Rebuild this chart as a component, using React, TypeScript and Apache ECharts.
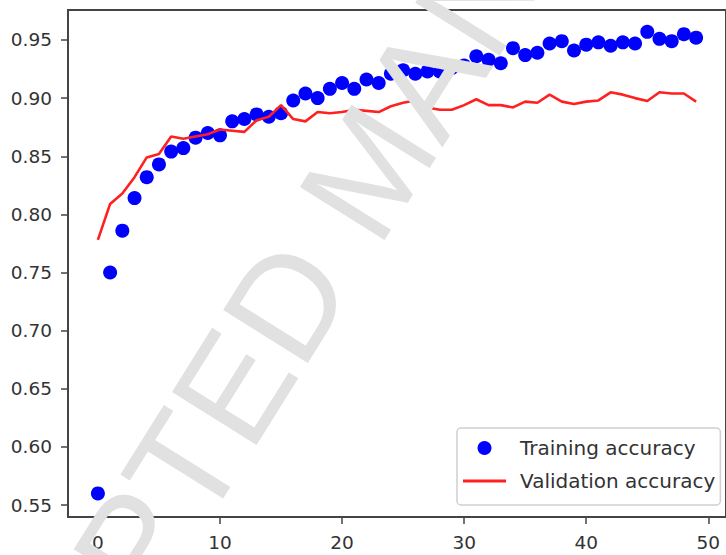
import React, { useEffect, useRef } from "react";
import * as echarts from "echarts";

// Accuracy per epoch (index = epoch number)
const trainingAccuracy = [
  0.56, 0.75, 0.786, 0.814, 0.832, 0.843, 0.854, 0.857, 0.866, 0.87,
  0.868, 0.88, 0.882, 0.886, 0.884, 0.887, 0.898, 0.904, 0.9, 0.908,
  0.913, 0.908, 0.916, 0.913, 0.921, 0.924, 0.921, 0.923, 0.923, 0.926,
  0.928, 0.936, 0.933, 0.93, 0.943, 0.937, 0.939, 0.947, 0.949, 0.941,
  0.946, 0.948, 0.945, 0.948, 0.947, 0.957, 0.951, 0.949, 0.955, 0.952,
];

const validationAccuracy = [
  0.778, 0.809, 0.818, 0.832, 0.849, 0.852, 0.867, 0.865, 0.867, 0.869,
  0.873, 0.872, 0.871, 0.881, 0.884, 0.894, 0.882, 0.88, 0.888, 0.887,
  0.888, 0.89, 0.889, 0.888, 0.893, 0.896, 0.898, 0.892, 0.89, 0.89,
  0.894, 0.899, 0.894, 0.894, 0.892, 0.897, 0.896, 0.903, 0.897, 0.895,
  0.897, 0.898, 0.905, 0.903, 0.9, 0.8975, 0.905, 0.904, 0.904, 0.897,
];

const xTicks = [0, 10, 20, 30, 40, 50];
const yTicks = [0.55, 0.6, 0.65, 0.7, 0.75, 0.8, 0.85, 0.9, 0.95];

const seriesNames = ["Training accuracy", "Validation accuracy"];
const watermark = "ACCEPTED MANUSCRIPT";

export default function App() {
  const ref = useRef<HTMLDivElement>(null);

  useEffect(() => {
    if (!ref.current) return;
    const chart = echarts.init(ref.current, null, { renderer: "svg" });
    const axisColor = "#444";
    const labelStyle = {
      fontFamily: "DejaVu Sans",
      fontSize: 18.5,
      color: "#333",
    };

    chart.setOption({
      animation: false,
      backgroundColor: "#fff",
      grid: {
        left: 68,
        top: 10,
        width: 666,
        height: 507,
        show: true,
        borderColor: axisColor,
        borderWidth: 2,
        backgroundColor: "transparent",
      },
      xAxis: {
        type: "value",
        min: -2.45,
        max: 51.45,
        splitLine: { show: false },
        axisLine: { onZero: false, lineStyle: { color: axisColor, width: 2 } },
        axisTick: {
          show: true,
          length: 7,
          customValues: xTicks,
          lineStyle: { color: axisColor, width: 1.5 },
        },
        axisLabel: {
          ...labelStyle,
          margin: 16,
          customValues: xTicks,
          formatter: (v: number) => String(v),
        },
      },
      yAxis: {
        type: "value",
        min: 0.5397,
        max: 0.9758,
        splitLine: { show: false },
        axisLine: {
          show: true,
          onZero: false,
          lineStyle: { color: axisColor, width: 2 },
        },
        axisTick: {
          show: true,
          length: 7,
          customValues: yTicks,
          lineStyle: { color: axisColor, width: 1.5 },
        },
        axisLabel: {
          ...labelStyle,
          margin: 16,
          customValues: yTicks,
          formatter: (v: number) => v.toFixed(2),
        },
      },
      legend: {
        orient: "vertical",
        left: 457,
        top: 428,
        data: [
          { name: seriesNames[0], icon: "circle" },
          // plain line swatch, no marker
          { name: seriesNames[1], icon: "path://M0,0H43V3H0Z" },
        ],
        symbolKeepAspect: true,
        itemWidth: 43,
        itemHeight: 14,
        itemGap: 13,
        padding: [10, 5, 14, 6],
        backgroundColor: "rgba(255,255,255,0.85)",
        borderColor: "#cfcfcf",
        borderWidth: 1.5,
        borderRadius: 4,
        textStyle: {
          fontFamily: "DejaVu Sans",
          fontSize: 20,
          color: "#333",
          padding: [0, 0, 0, 9],
        },
      },
      series: [
        {
          name: seriesNames[0],
          type: "scatter",
          symbol: "circle",
          symbolSize: 14,
          itemStyle: { color: "#0000ff", opacity: 1 },
          data: trainingAccuracy.map((v, i) => [i, v]),
          z: 2,
        },
        {
          name: seriesNames[1],
          type: "line",
          symbol: "none",
          lineStyle: { color: "#ff2020", width: 2.6 },
          itemStyle: { color: "#ff2020" },
          data: validationAccuracy.map((v, i) => [i, v]),
          z: 3,
        },
      ],
      graphic: [
        {
          type: "text",
          x: 370,
          y: 169,
          rotation: (58 * Math.PI) / 180,
          z: 100,
          silent: true,
          style: {
            text: watermark,
            fontFamily: "Liberation Sans",
            fontSize: 145,
            fill: "#e1e1e1",
            textAlign: "center",
            textVerticalAlign: "middle",
          },
        },
      ],
    });

    return () => chart.dispose();
  }, []);

  return (
    <div
      ref={ref}
      style={{ position: "fixed", left: 0, top: 0, width: 726, height: 555 }}
    />
  );
}
